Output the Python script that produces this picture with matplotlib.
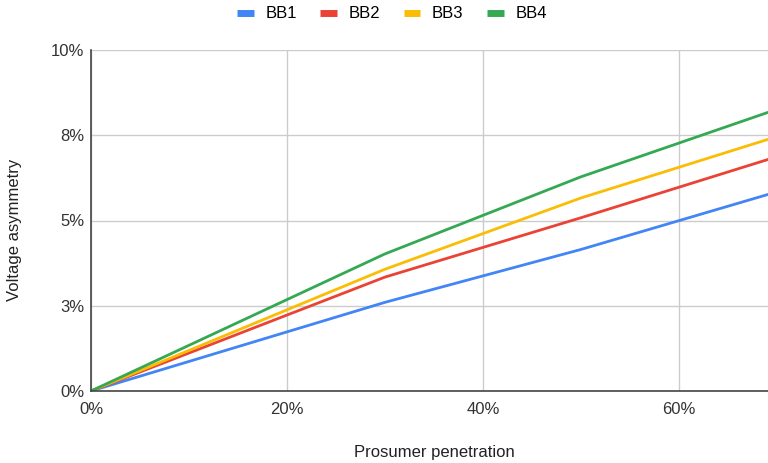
import matplotlib.pyplot as plt
from matplotlib.lines import Line2D

plt.rcParams['font.family'] = ['Liberation Sans', 'DejaVu Sans']

# prosumer penetration (fraction) and voltage asymmetry (%) per busbar
penetration = [0.0, 0.3, 0.5, 0.7]
bb1 = [0.0, 2.60, 4.15, 5.84]
bb2 = [0.0, 3.34, 5.08, 6.87]
bb3 = [0.0, 3.57, 5.66, 7.46]
bb4 = [0.0, 4.02, 6.28, 8.26]

series_names = ["BB1", "BB2", "BB3", "BB4"]
colors = ["#4285F4", "#EA4335", "#FBBC04", "#34A853"]

y_ticks = [0, 2.5, 5, 7.5, 10]
y_tick_labels = ["0%", "3%", "5%", "8%", "10%"]
x_ticks = [0, 0.2, 0.4, 0.6]
x_tick_labels = ["0%", "20%", "40%", "60%"]

fig = plt.figure(figsize=(7.68, 4.63), dpi=100)
ax = fig.add_axes([91/768, 1 - 391/463, 1 - 91/768, (391 - 50)/463])

for vals, name, c in zip([bb1, bb2, bb3, bb4], series_names, colors):
    ax.plot(penetration, vals, color=c, lw=2.0, label=name,
            solid_joinstyle='round', zorder=3)

ax.set_xlim(0, 0.691)
ax.set_ylim(0, 10)
ax.set_xticks(x_ticks)
ax.set_xticklabels(x_tick_labels)
ax.set_yticks(y_ticks)
ax.set_yticklabels(y_tick_labels)
ax.tick_params(length=0, labelsize=12, colors='#333333', pad=5)
ax.tick_params(axis='x', pad=8)

ax.grid(True, color='#cccccc', lw=1.0, zorder=0)
for s in ('top', 'right'):
    ax.spines[s].set_visible(False)
for s in ('left', 'bottom'):
    ax.spines[s].set_color('#444444')
    ax.spines[s].set_linewidth(1.2)
    ax.spines[s].set_zorder(4)

fig.text(434/768, 1 - 452/463, "Prosumer penetration", ha='center', va='center',
         fontsize=12, color='#222222')
fig.text(15/768, 1 - 230/463, "Voltage asymmetry", ha='center', va='center',
         rotation=90, fontsize=12, color='#222222')

handles = [Line2D([0], [0], color=c, lw=5, solid_capstyle='butt') for c in colors]
fig.legend(handles, series_names, loc='center', bbox_to_anchor=(392/768, 1 - 14/463),
           ncol=4, frameon=False, fontsize=12, handlelength=1.0, handletextpad=0.7,
           columnspacing=1.4)

fig.savefig("out.png", dpi=100)
